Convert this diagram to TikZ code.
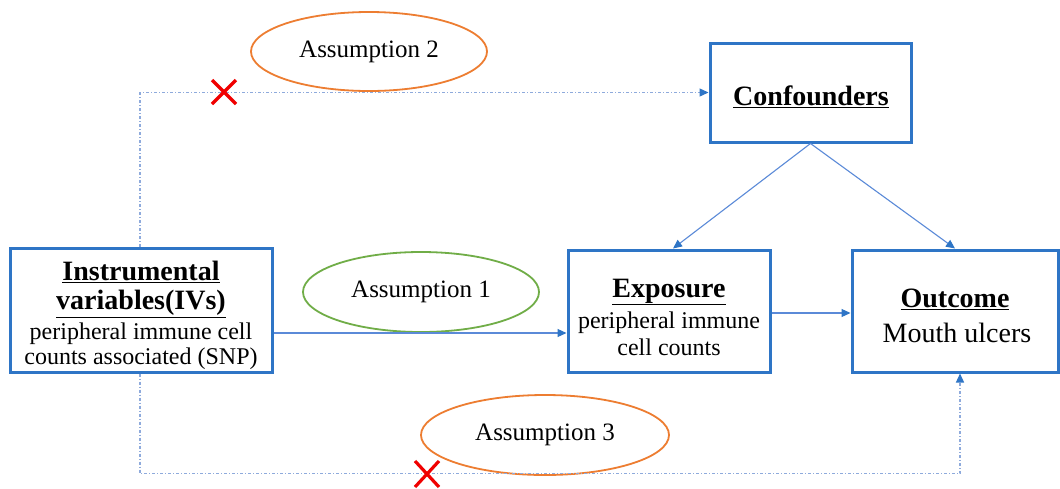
\documentclass[tikz,border=0pt]{standalone}
\usepackage{fontspec}
\setmainfont{Liberation Serif}
\usetikzlibrary{arrows.meta,shapes.geometric,calc}
\definecolor{boxblue}{HTML}{2E75C6}
\definecolor{linkblue}{HTML}{5B8AD8}
\definecolor{dotblue}{HTML}{8EAADC}
\definecolor{ellorange}{HTML}{ED7D31}
\definecolor{ellgreen}{HTML}{70AD47}
\definecolor{crossred}{HTML}{F00000}
\tikzset{
  box/.style={draw=boxblue, line width=3pt, rectangle, inner sep=0pt},
  ell/.style={ellipse, draw, line width=1.8pt, inner sep=0pt, font=\fontsize{25}{28}\selectfont},
  boldtxt/.style={font=\fontsize{28}{32}\selectfont\bfseries, inner sep=0pt},
  regtxt/.style={font=\fontsize{24}{27}\selectfont, inner sep=0pt},
  bigtxt/.style={font=\fontsize{28}{32}\selectfont, inner sep=0pt},
  conn/.style={draw=linkblue, line width=1.1pt, -{Triangle[length=9pt,width=8pt,color=boxblue]}},
  dotline/.style={draw=dotblue, line width=1.3pt, dash pattern=on 3pt off 2pt on 1pt off 2pt, -{Triangle[length=9pt,width=8pt,color=boxblue]}},
  cross/.style={draw=crossred, line width=3.2pt}
}
\begin{document}
\begin{tikzpicture}[x=1pt,y=-1pt]
\useasboundingbox[fill=white] (0,0) rectangle (1060,488);

% boxes
\node[box, minimum width=201pt, minimum height=99pt] (conf) at (810.5,92.5) {};
\node[box, minimum width=262pt, minimum height=124pt] (iv) at (141,310) {};
\node[box, minimum width=202pt, minimum height=122pt] (exp) at (669,311) {};
\node[box, minimum width=206pt, minimum height=122pt] (out) at (955,311) {};

% texts
\node[boldtxt] (conft) at (811,97) {\underline{Confounders}};
\node[boldtxt] (ivt1) at (141,272) {\underline{Instrumental}};
\node[boldtxt] (ivt2) at (141,304) {\underline{variables(IVs)}};
\node[regtxt] (ivt3) at (141,334) {peripheral immune cell};
\node[regtxt] (ivt4) at (141,359) {counts associated (SNP)};
\node[boldtxt] (expt1) at (669,292) {\underline{Exposure}};
\node[regtxt] (expt2) at (669,323) {peripheral immune};
\node[regtxt] (expt3) at (669,347) {cell counts};
\node[boldtxt] (outt1) at (955,299) {\underline{Outcome}};
\node[bigtxt] (outt2) at (957,333) {Mouth ulcers};

% ellipses
\node[ell, draw=ellorange, minimum width=236pt, minimum height=79pt] (a2) at (369,51.5) {\raisebox{-2pt}{Assumption 2}};
\node[ell, draw=ellgreen, minimum width=236pt, minimum height=80pt] (a1) at (421,292) {\raisebox{-2pt}{Assumption 1}};
\node[ell, draw=ellorange, minimum width=248pt, minimum height=80pt] (a3) at (545,435) {\raisebox{-2pt}{Assumption 3}};

% solid connectors
\draw[conn] ($(iv.east)+(0,23)$) coordinate (ivr) -- (ivr -| exp.west);
\draw[conn] ($(exp.east)+(0,2)$) coordinate (expr) -- (expr -| out.west);
\draw[conn] (conf.south) -- ($(exp.north)+(4,0)$);
\draw[conn] (conf.south) -- (out.north);

% dotted connectors
\draw[dotline] ($(iv.north)+(-1,0)$) |- (conf.west);
\coordinate (outb) at ($(out.south)+(5,0)$);
\draw[dotline] ($(iv.south)+(-1,0)$) -- ++(0,100) -| (outb);

% crosses
\coordinate (x1) at (224,92);
\coordinate (x2) at (427,474);
\draw[cross] ($(x1)+(-12,-12)$) -- ($(x1)+(12,12)$);
\draw[cross] ($(x1)+(-12,12)$) -- ($(x1)+(12,-12)$);
\draw[cross] ($(x2)+(-12,-13)$) -- ($(x2)+(12,13)$);
\draw[cross] ($(x2)+(-12,13)$) -- ($(x2)+(12,-13)$);
\end{tikzpicture}
\end{document}
